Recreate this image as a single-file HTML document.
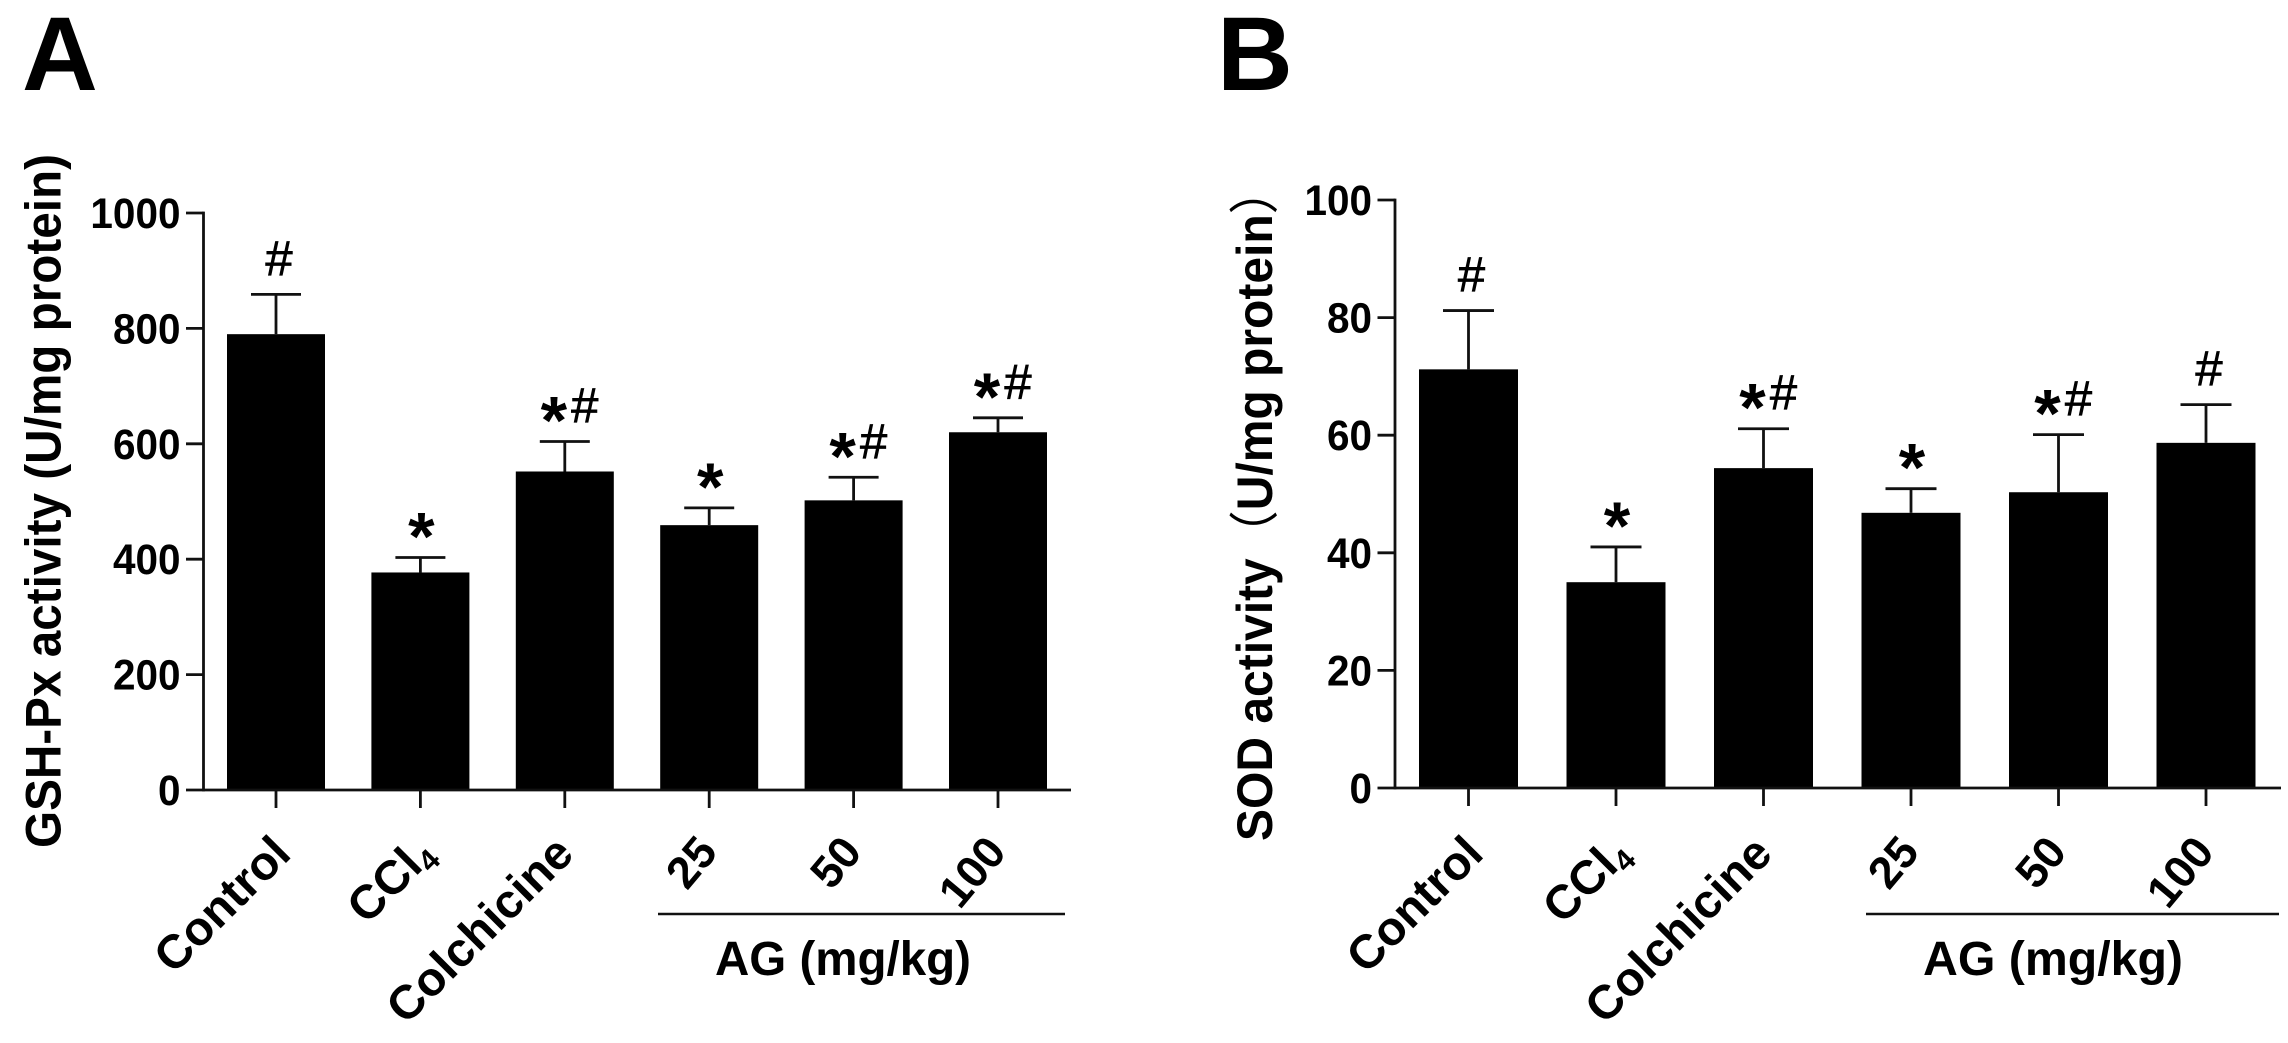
<!DOCTYPE html>
<html lang="en">
<head>
<meta charset="utf-8">
<title>GSH-Px and SOD activity</title>
<style>
html,body{margin:0;padding:0;background:#fff;}
svg{display:block;}
text{font-family:"Liberation Sans","Noto Sans CJK SC",sans-serif;fill:#000;}
</style>
</head>
<body>
<svg id="figure" xmlns="http://www.w3.org/2000/svg" width="2288" height="1043" viewBox="0 0 2288 1043"></svg>
<script>
var categories = ['Control', 'CCl', 'Colchicine', '25', '50', '100'];
var gshValues = [790, 377, 552, 459, 502, 620];
var gshErrors = [69, 26, 52, 30, 40, 25];
var gshMarks = ['#', '*', '*#', '*', '*#', '*#'];
var gshTicks = [0, 200, 400, 600, 800, 1000];
var sodValues = [71.2, 35, 54.4, 46.8, 50.3, 58.7];
var sodErrors = [10, 6, 6.7, 4.1, 9.8, 6.5];
var sodMarks = ['#', '*', '*#', '*', '*#', '#'];
var sodTicks = [0, 20, 40, 60, 80, 100];

var SVGNS = 'http://www.w3.org/2000/svg';
var root = document.getElementById('figure');

function mk(parent, tag, attrs, content) {
  var el = document.createElementNS(SVGNS, tag);
  for (var k in attrs) { el.setAttribute(k, attrs[k]); }
  if (content !== undefined) { el.textContent = content; }
  parent.appendChild(el);
  return el;
}

function isDose(cat) {
  return /^[0-9]+$/.test(cat);
}

function labelNudge(cat) {
  if (cat === 'Control') { return 17; }
  if (cat === 'CCl') { return 16; }
  if (cat === 'Colchicine') { return 11; }
  return 10;
}

function drawPanel(p) {
  var g = mk(root, 'g', {});
  
  

  var yMax = p.ticks[p.ticks.length - 1];
  function yScale(v) { return p.y0 - (v / yMax) * (p.y0 - p.yTop); }
  function xScale(i) { return p.xFirst + i * p.step; }

  var letter = mk(g, 'text', {x: p.letterX, y: 90, 'font-size': 105, 'font-weight': 700}, p.letter);
  
  

  if (p.key === 'gsh') {
    var title = mk(g, 'text', {
      transform: 'translate(' + p.titleX + ',' + p.titleY + ') rotate(-90)',
      'text-anchor': 'middle', 'font-size': 50, 'font-weight': 700,
      textLength: p.titleLen, lengthAdjust: 'spacingAndGlyphs'
    }, 'GSH-Px activity (U/mg protein)');
    
    
  } else {
    var titleB = mk(g, 'text', {
      transform: 'translate(' + p.titleX + ',' + p.titleY + ') rotate(-90) scale(0.96,1)',
      'font-size': 50, 'font-weight': 700
    }, 'SOD activity');
    
    
    var open = mk(titleB, 'tspan', {'font-weight': 400}, '（');
    
    
    var unit = mk(titleB, 'tspan', {}, 'U/mg protein');
    
    
    var close = mk(titleB, 'tspan', {'font-weight': 400}, '）');
    
    
  }

  categories.forEach(function (cat, i) {
    var cx = xScale(i);
    var top = yScale(p.values[i]);
    var bar = mk(g, 'rect', {x: cx - p.barW / 2, y: top, width: p.barW, height: p.y0 - top, fill: '#000'});
    
    

    var capY = yScale(p.values[i] + p.errors[i]);
    var stem = mk(g, 'line', {x1: cx, x2: cx, y1: top, y2: capY, stroke: '#111', 'stroke-width': 2.8});
    
    
    var cap = mk(g, 'line', {x1: cx - p.capW / 2, x2: cx + p.capW / 2, y1: capY, y2: capY, stroke: '#111', 'stroke-width': 2.8});
    
    

    var mark = p.marks[i];
    var hasStar = mark.indexOf('*') >= 0;
    var hasHash = mark.indexOf('#') >= 0;
    if (hasStar) {
      var star = mk(g, 'text', {
        x: cx + (hasHash ? -11 : 1), y: capY + 2, 'text-anchor': 'middle',
        'font-size': 68, 'font-weight': 700
      }, '*');
      
      
    }
    if (hasHash) {
      var hash = mk(g, 'text', {
        x: cx + (hasStar ? 20 : 3), y: capY - 19, 'text-anchor': 'middle',
        'font-size': 49, stroke: '#000', 'stroke-width': 0.7
      }, '#');
      
      
    }

    var xTick = mk(g, 'line', {x1: cx, x2: cx, y1: p.y0, y2: p.y0 + 18, stroke: '#111', 'stroke-width': 2.8});
    
    

    var dose = isDose(cat);
    var lx = cx + labelNudge(cat);
    var ly = dose ? 853 : 856;
    var lab = mk(g, 'text', {
      transform: 'translate(' + lx + ',' + ly + ') rotate(' + (dose ? -50 : -45) + ')',
      'text-anchor': 'end', 'font-size': dose ? 45 : 47.5, 'font-weight': 700
    }, cat);
    if (cat === 'CCl') {
      var sub = mk(lab, 'tspan', {'font-size': 30, dy: 8}, '4');
      
      
    }
    
    
  });

  p.ticks.forEach(function (t) {
    var y = yScale(t);
    var tick = mk(g, 'line', {x1: p.xAxis - 17.5, x2: p.xAxis, y1: y, y2: y, stroke: '#111', 'stroke-width': 2.8});
    
    
    var text = String(t);
    var label = mk(g, 'text', {
      x: p.xAxis - 23, y: y + 15, 'text-anchor': 'end', 'font-size': 43, 'font-weight': 700,
      textLength: text.length * 0.556 * 40.5, lengthAdjust: 'spacingAndGlyphs'
    }, text);
    
    
  });

  var yAxis = mk(g, 'line', {x1: p.xAxis, x2: p.xAxis, y1: p.yTop - 1.4, y2: p.y0 + 1.4, stroke: '#111', 'stroke-width': 2.8});
  
  
  var xAxis = mk(g, 'line', {x1: p.xAxis, x2: p.xEnd, y1: p.y0, y2: p.y0, stroke: '#111', 'stroke-width': 2.8});
  
  

  var bracket = mk(g, 'line', {x1: p.lineX1, x2: p.lineX2, y1: 914, y2: 914, stroke: '#111', 'stroke-width': 2.6});
  
  
  var group = mk(g, 'text', {
    x: p.groupX, y: 975, 'text-anchor': 'middle', 'font-size': 48, 'font-weight': 700,
    textLength: p.groupLen, lengthAdjust: 'spacingAndGlyphs'
  }, 'AG (mg/kg)');
  
  
}

drawPanel({
  key: 'gsh', letter: 'A', letterX: 22,
  titleX: 60.5, titleY: 501, titleLen: 694,
  values: gshValues, errors: gshErrors, marks: gshMarks, ticks: gshTicks,
  xAxis: 203.5, xEnd: 1071, y0: 790, yTop: 213, xFirst: 276, step: 144.4, barW: 98, capW: 50,
  lineX1: 658, lineX2: 1065, groupX: 843, groupLen: 256
});
drawPanel({
  key: 'sod', letter: 'B', letterX: 1217,
  titleX: 1272, titleY: 841,
  values: sodValues, errors: sodErrors, marks: sodMarks, ticks: sodTicks,
  xAxis: 1395, xEnd: 2281, y0: 788, yTop: 200, xFirst: 1468.5, step: 147.5, barW: 99, capW: 51,
  lineX1: 1866, lineX2: 2279, groupX: 2053, groupLen: 260
});
</script>
</body>
</html>
